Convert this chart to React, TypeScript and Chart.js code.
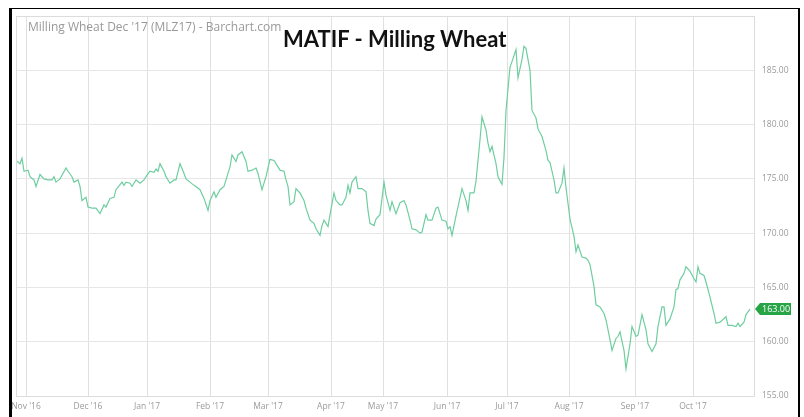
import React, { useEffect, useRef } from "react";
import { Chart, registerables } from "chart.js";

Chart.register(...registerables);

// x position of each session, in day units counted from the first session of Nov '16
const sessionDays = [
  -5, -3, -2, -1, 1, 2, 4, 5, 7, 9,
  11, 13, 14, 15, 17, 20, 21, 23, 24, 26,
  27, 28, 30, 31, 33, 35, 37, 39, 40, 42,
  44, 45, 48, 49, 50, 52, 53, 55, 57, 59,
  60, 62, 64, 65, 66, 67, 69, 70, 72, 74,
  75, 77, 79, 80, 82, 84, 85, 87, 89, 91,
  92, 94, 95, 97, 99, 100, 102, 103, 105, 106,
  108, 110, 111, 113, 115, 116, 118, 120, 122, 124,
  125, 127, 129, 130, 131, 132, 134, 135, 137, 139,
  140, 142, 144, 145, 147, 148, 149, 151, 152, 154,
  155, 157, 158, 160, 161, 162, 163, 165, 166, 168,
  170, 171, 172, 174, 175, 177, 179, 180, 182, 183,
  185, 187, 189, 190, 192, 193, 195, 197, 198, 200,
  201, 203, 205, 206, 208, 210, 211, 212, 213, 215,
  218, 220, 221, 222, 224, 225, 227, 228, 230, 231,
  232, 233, 235, 236, 238, 239, 240, 242, 243, 245,
  246, 248, 249, 250, 252, 253, 255, 256, 258, 260,
  261, 262, 264, 265, 266, 268, 269, 270, 272, 274,
  275, 276, 278, 280, 281, 282, 284, 285, 287, 289,
  290, 292, 293, 295, 296, 297, 299, 300, 302, 303,
  305, 306, 308, 310, 311, 313, 315, 316, 318, 319,
  320, 322, 324, 325, 326, 327, 329, 330, 332, 334,
  335, 336, 337, 339, 340, 342, 344, 345, 347, 350,
  351, 353, 355, 356, 357, 359, 360, 362,
];

const prices = [
  176.7, 176.4, 176.9, 175.7, 175.8, 175.2, 174.9, 174.3, 175.4, 175.0,
  174.9, 174.9, 175.2, 174.7, 175.0, 176.0, 175.7, 175.2, 174.7, 174.9,
  174.3, 173.0, 173.3, 172.4, 172.3, 172.3, 171.8, 172.6, 172.4, 173.2,
  173.3, 174.0, 174.7, 174.4, 174.7, 174.6, 174.3, 174.9, 174.6, 174.9,
  175.2, 175.7, 175.6, 175.9, 175.7, 176.4, 175.7, 175.2, 174.6, 174.9,
  174.9, 176.4, 175.5, 175.0, 174.7, 174.4, 174.3, 174.0, 173.2, 172.1,
  173.0, 173.8, 173.3, 174.0, 174.3, 174.9, 176.1, 177.2, 176.6, 177.2,
  177.5, 176.6, 175.7, 175.8, 176.0, 175.5, 174.0, 175.2, 176.8, 176.7,
  176.4, 175.8, 175.7, 174.9, 174.3, 172.6, 172.9, 174.1, 173.7, 173.0,
  172.3, 171.2, 170.9, 170.4, 169.8, 170.7, 171.2, 170.6, 171.7, 173.7,
  173.0, 172.6, 172.6, 173.3, 174.4, 173.7, 174.7, 175.2, 174.1, 174.1,
  173.8, 172.1, 170.9, 170.7, 171.3, 171.7, 174.7, 173.5, 172.1, 172.9,
  171.8, 172.8, 173.0, 172.6, 171.2, 170.4, 170.3, 170.0, 170.1, 171.7,
  171.2, 171.2, 172.3, 172.4, 171.2, 171.1, 170.4, 170.6, 169.8, 171.6,
  174.1, 173.0, 172.1, 173.7, 173.7, 174.8, 178.6, 180.7, 179.5, 178.3,
  177.5, 178.0, 176.4, 175.2, 174.5, 177.0, 181.3, 185.3, 185.8, 186.9,
  184.3, 186.0, 187.2, 187.0, 185.0, 181.3, 180.6, 179.6, 178.9, 177.6,
  176.7, 176.5, 174.9, 173.7, 173.7, 174.6, 176.0, 174.2, 171.3, 169.7,
  168.3, 168.9, 167.8, 167.7, 167.5, 167.1, 165.1, 163.4, 163.2, 162.6,
  162.0, 160.2, 159.2, 160.3, 160.5, 160.9, 159.2, 157.5, 159.8, 161.4,
  160.5, 160.6, 162.5, 161.1, 159.8, 159.1, 159.8, 161.4, 163.2, 163.2,
  161.5, 162.1, 163.2, 164.8, 164.9, 165.7, 166.3, 166.9, 166.5, 165.8,
  165.5, 166.9, 166.3, 166.1, 165.5, 164.1, 162.6, 161.7, 161.8, 162.3,
  161.5, 161.5, 161.4, 161.7, 161.4, 161.8, 162.5, 163.0,
];

const monthTickDays = [0, 31, 60.5, 92, 121, 152.5, 178.5, 210.5, 240.5, 271.5, 304.5, 333.5];
const monthLabels = [
  "Nov '16", "Dec '16", "Jan '17", "Feb '17", "Mar '17", "Apr '17",
  "May '17", "Jun '17", "Jul '17", "Aug '17", "Sep '17", "Oct '17",
];
const priceTicks = [155, 160, 165, 170, 175, 180, 185, 190];
const labeledPriceTicks = [155, 160, 165, 170, 175, 180, 185];

const xMin = -5;
const xMax = 364;
const yMin = 155;
const yMax = 190;

const LINE_COLOR = "rgb(110, 206, 160)";
const GRID_COLOR = "#e6e6e6";
const TICK_COLOR = "#9a9a9a";

const frameAndBadge = {
  id: "frameAndBadge",
  afterDraw(chart: any) {
    const { ctx, chartArea, scales } = chart;
    ctx.save();
    ctx.strokeStyle = "#dcdcdc";
    ctx.lineWidth = 1;
    ctx.strokeRect(
      Math.round(chartArea.left) + 0.5,
      Math.round(chartArea.top) + 0.5,
      Math.round(chartArea.right - chartArea.left),
      Math.round(chartArea.bottom - chartArea.top)
    );
    // last price badge
    const last = prices[prices.length - 1];
    const y = Math.round(scales.y.getPixelForValue(last));
    const x0 = chartArea.right + 1;
    const h = 12;
    ctx.fillStyle = "#27a446";
    ctx.beginPath();
    ctx.moveTo(x0, y);
    ctx.lineTo(x0 + 5, y - h / 2);
    ctx.lineTo(x0 + 36, y - h / 2);
    ctx.lineTo(x0 + 36, y + h / 2);
    ctx.lineTo(x0 + 5, y + h / 2);
    ctx.closePath();
    ctx.fill();
    ctx.fillStyle = "#ffffff";
    ctx.font = "9px 'Open Sans'";
    ctx.textAlign = "left";
    ctx.textBaseline = "middle";
    ctx.fillText(last.toFixed(2), x0 + 7, y + 0.5);
    ctx.restore();
  },
};

export default function App() {
  const canvasRef = useRef<HTMLCanvasElement | null>(null);

  useEffect(() => {
    if (!canvasRef.current) return;
    const chart = new Chart(canvasRef.current, {
      type: "line",
      data: {
        datasets: [
          {
            data: sessionDays.map((d, i) => ({ x: d, y: prices[i] })),
            borderColor: LINE_COLOR,
            borderWidth: 1.2,
            pointRadius: 0,
            tension: 0,
            fill: false,
          },
        ],
      },
      options: {
        animation: false,
        responsive: false,
        devicePixelRatio: 1,
        layout: { padding: { left: 16, top: 16, right: 0, bottom: 0 } },
        plugins: {
          legend: { display: false },
          tooltip: { enabled: false },
          title: { display: false },
        },
        scales: {
          x: {
            type: "linear",
            min: xMin,
            max: xMax,
            afterBuildTicks: (scale: any) => {
              scale.ticks = monthTickDays.map((v) => ({ value: v }));
            },
            afterFit: (scale: any) => {
              scale.height = 21;
            },
            grid: { color: "#e0e0e0", drawTicks: false },
            border: { display: false },
            ticks: {
              autoSkip: false,
              maxRotation: 0,
              padding: 5,
              color: TICK_COLOR,
              font: { family: "'Open Sans'", size: 8.5 },
              callback: (_v: any, i: number) => monthLabels[i],
            },
          },
          y: {
            type: "linear",
            position: "right",
            min: yMin,
            max: yMax,
            afterBuildTicks: (scale: any) => {
              scale.ticks = priceTicks.map((v) => ({ value: v }));
            },
            afterFit: (scale: any) => {
              scale.width = 50;
            },
            grid: { color: GRID_COLOR, drawTicks: false },
            border: { display: false },
            ticks: {
              padding: 8,
              color: TICK_COLOR,
              font: { family: "'Open Sans'", size: 8.5 },
              callback: (v: any) =>
                labeledPriceTicks.includes(Number(v)) ? Number(v).toFixed(2) : null,
            },
          },
        },
      },
      plugins: [frameAndBadge],
    });
    return () => chart.destroy();
  }, []);

  return (
    <div style={{ position: "absolute", left: 0, top: 0, width: 804, height: 417, background: "#fff", overflow: "hidden" }}>
      <canvas ref={canvasRef} width={804} height={417} style={{ position: "absolute", left: 0, top: 0 }} />
      <div
        style={{
          position: "absolute",
          left: 9,
          top: 8,
          width: 786,
          height: 420,
          borderTop: "1px solid #000",
          borderLeft: "3px solid #000",
          borderRight: "2px solid #000",
          pointerEvents: "none",
        }}
      />
      <div
        style={{
          position: "absolute",
          left: 28,
          top: 18,
          fontFamily: "'Open Sans', sans-serif",
          fontSize: 12,
          color: "#999",
          whiteSpace: "nowrap",
        }}
      >
        Milling Wheat Dec '17 (MLZ17) - Barchart.com
      </div>
      <div
        style={{
          position: "absolute",
          left: 283,
          top: 25,
          fontFamily: "Lato, sans-serif",
          fontWeight: 700,
          fontSize: 22,
          color: "#111",
          whiteSpace: "nowrap",
        }}
      >
        MATIF - Milling Wheat
      </div>
    </div>
  );
}
